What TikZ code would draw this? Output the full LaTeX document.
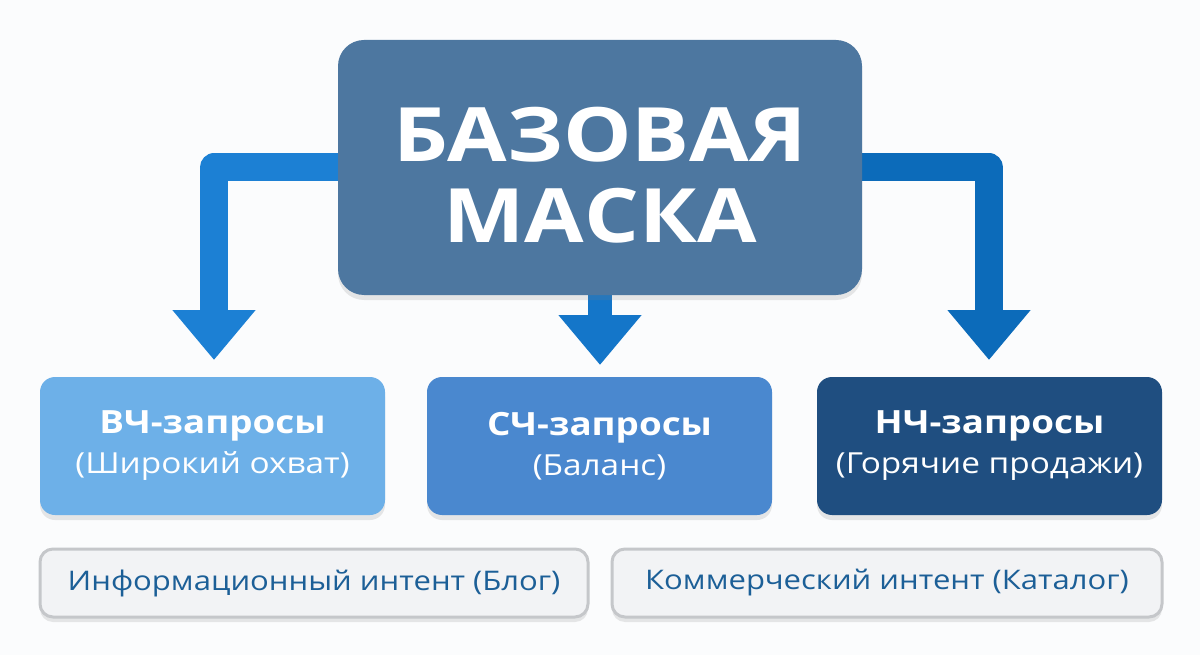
\documentclass[tikz,border=0pt]{standalone}
\usepackage{fontspec}
\setmainfont{Open Sans}[FakeStretch=1.15]
\usetikzlibrary{arrows.meta,shadows}
\pgfdeclarelayer{bg}
\pgfdeclarelayer{back}
\pgfsetlayers{bg,back,main}
\definecolor{bgc}{HTML}{FBFCFD}
\definecolor{topc}{HTML}{4D77A0}
\definecolor{arrl}{HTML}{1C80D4}
\definecolor{arrm}{HTML}{1476C9}
\definecolor{arrr}{HTML}{0C6BBA}
\definecolor{hfc}{HTML}{6DB0E8}
\definecolor{mfc}{HTML}{4A88CF}
\definecolor{lfc}{HTML}{1F4E80}
\definecolor{tagfill}{HTML}{F2F3F5}
\definecolor{tagborder}{HTML}{C5C7CA}
\definecolor{tagtext}{HTML}{1C5F97}
\begin{document}
\begin{tikzpicture}[x=1pt,y=-1pt,
  shadowed/.style={drop shadow={opacity=0.18,shadow xshift=0pt,shadow yshift=-5pt}},
  topbox/.style={fill=topc,rounded corners=26pt,minimum width=524pt,minimum height=255pt,shadowed},
  titletext/.style={text=white,align=center,font=\fontsize{75}{81}\selectfont\bfseries},
  qbox/.style={rounded corners=15pt,minimum width=345pt,minimum height=138pt,text=white,align=center,shadowed,font=\fontsize{29}{40}\selectfont},
  tagbox/.style={rounded corners=13pt,fill=tagfill,draw=tagborder,line width=3pt,minimum height=68pt,text=tagtext,font=\fontsize{27}{32}\selectfont,shadowed},
  conn/.style={line width=28pt,line join=round,-{Triangle[width=80pt,length=50pt]}},
  connc/.style={line width=24pt,-{Triangle[width=80pt,length=50pt]}}
]
\begin{pgfonlayer}{bg}
\fill[bgc] (0,0) rectangle (1200,655);
\end{pgfonlayer}
\useasboundingbox (0,0) rectangle (1200,655);

\coordinate (lt) at (214,360);
\coordinate (ct) at (600,365);
\coordinate (rt) at (989,360);

\node[topbox] (top) at (600,167.5) {};
\node[titletext] (title) at (600,175.5) {БАЗОВАЯ\\МАСКА};

\node[qbox,fill=hfc] (hf) at (212.5,446) {\textbf{\fontsize{32}{40}\selectfont ВЧ-запросы}\\(Широкий охват)};
\node[qbox,fill=mfc] (mf) at (599.5,446) {\textbf{\fontsize{32}{40}\selectfont СЧ-запросы}\\(Баланс)};
\node[qbox,fill=lfc] (lf) at (989.5,446) {\textbf{\fontsize{32}{40}\selectfont НЧ-запросы}\\(Горячие продажи)};

\node[tagbox,minimum width=548pt] (info) at (314,583) {Информационный интент (Блог)};
\node[tagbox,minimum width=550pt] (comm) at (887,583) {Коммерческий интент (Каталог)};

\begin{pgfonlayer}{back}
\draw[conn,draw=arrl] (top.west) -| (lt);
\draw[conn,draw=arrr] (top.east) -| (rt);
\draw[connc,draw=arrm] (top.south) -- (ct);
\end{pgfonlayer}
\end{tikzpicture}
\end{document}
